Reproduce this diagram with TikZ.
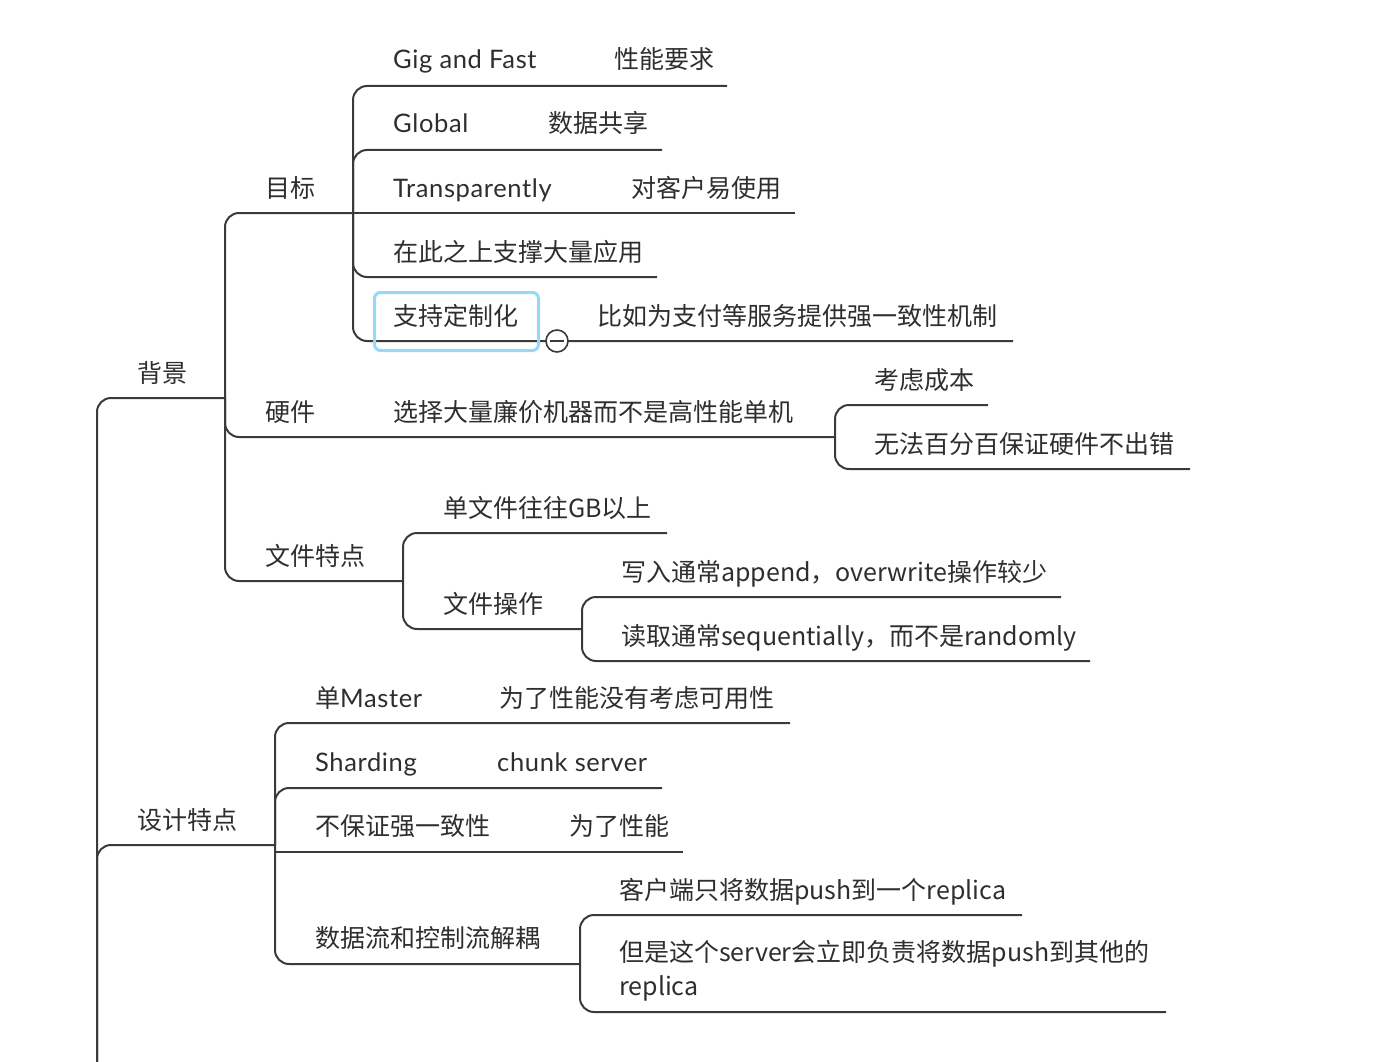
\documentclass[tikz,border=0pt]{standalone}
\usepackage{fontspec}
\setmainfont{Lato}[LetterSpace=2.5]
\newfontfamily\cjk{Noto Sans CJK SC}
\definecolor{ln}{HTML}{3A3A3A}
\definecolor{txt}{HTML}{2E2E2E}
\definecolor{hl}{HTML}{96D7FA}
\begin{document}
\begin{tikzpicture}[x=1pt,y=-1pt,
  lbl/.style={anchor=base west, inner sep=0pt, text=txt, font=\fontsize{25.5}{34}\selectfont},
  zh/.style={lbl, font=\cjk\fontsize{25}{34}\selectfont},
  wire/.style={draw=ln, line width=2pt, rounded corners=14pt}]
\useasboundingbox (0,0) rectangle (1376,1062);
\clip (0,0) rectangle (1376,1062);

% ---------- labels ----------
\node[zh]  (mb)    at (265,197) {目标};
\node[lbl] (gig)   at (393,69)  {Gig and Fast};
\node[zh]  (gig-d) at (614,69)  {性能要求};
\node[lbl] (glb)   at (393,133) {Global};
\node[zh]  (glb-d) at (548,133) {数据共享};
\node[lbl] (tr)    at (393,197) {Transparently};
\node[zh]  (tr-d)  at (631,197) {对客户易使用};
\node[zh]  (app)   at (393,261) {在此之上支撑大量应用};
\node[zh]  (cus)   at (393,325) {支持定制化};
\node[zh]  (cus-d) at (597,325) {比如为支付等服务提供强一致性机制};
\node[zh]  (bg)    at (137,382) {背景};
\node[zh]  (hw)    at (265,421) {硬件};
\node[zh]  (hw-d)  at (393,421) {选择大量廉价机器而不是高性能单机};
\node[zh]  (cost)  at (874,389) {考虑成本};
\node[zh]  (err)   at (874,453) {无法百分百保证硬件不出错};
\node[zh]  (ft)    at (265,565) {文件特点};
\node[zh]  (gb)    at (443,517) {单文件往往GB以上};
\node[zh]  (op)    at (443,613) {文件操作};
\node[zh]  (wr)    at (621,581) {写入通常append，overwrite操作较少};
\node[zh]  (rd)    at (621,645) {读取通常sequentially，而不是randomly};
\node[zh]  (ds)    at (137,829) {设计特点};
\node[lbl] (ms)    at (315,707) {{\cjk\fontsize{25}{34}\selectfont 单}Master};
\node[zh]  (ms-d)  at (499,707) {为了性能没有考虑可用性};
\node[lbl] (sh)    at (315,771) {Sharding};
\node[lbl] (sh-d)  at (497,771) {chunk server};
\node[zh]  (cs)    at (315,835) {不保证强一致性};
\node[zh]  (cs-d)  at (569,835) {为了性能};
\node[zh]  (df)    at (315,947) {数据流和控制流解耦};
\node[zh]  (push1) at (619,899) {客户端只将数据push到一个replica};
\node[zh, anchor=west, align=left] (push2) at (619,971)
  {但是这个server会立即负责将数据push到其他的\\replica};

% ---------- junctions and line ends ----------
\coordinate (root) at (97,1100);
\coordinate (j-bg) at (225,398);
\coordinate (j-mb) at (353,213);
\coordinate (j-hw) at (835,437);
\coordinate (j-ft) at (403,581);
\coordinate (j-op) at (582,629);
\coordinate (j-ds) at (275,845);
\coordinate (j-df) at (580,964);
\coordinate (s-cs) at (275,852);
\coordinate (e-gig)   at (727,86);
\coordinate (e-glb)   at (662,150);
\coordinate (e-tr)    at (795,213);
\coordinate (e-app)   at (657,277);
\coordinate (e-cus)   at (1013,341);
\coordinate (e-cost)  at (988,405);
\coordinate (e-err)   at (1190,469);
\coordinate (e-gb)    at (667,533);
\coordinate (e-wr)    at (1061,597);
\coordinate (e-rd)    at (1090,661);
\coordinate (e-ms)    at (790,723);
\coordinate (e-sh)    at (662,788);
\coordinate (e-cs)    at (683,852);
\coordinate (e-push1) at (1022,915);
\coordinate (e-push2) at (1166,1012);

% ---------- connectors ----------
\draw[wire] (root) |- (j-bg);
\draw[wire] (root) |- (j-ds);
\draw[wire] (j-bg) |- (j-mb);
\draw[wire] (j-bg) |- (j-hw);
\draw[wire] (j-bg) |- (j-ft);
\draw[wire] (j-mb) |- (e-gig);
\draw[wire] (j-mb) |- (e-glb);
\draw[wire] (j-mb) -- (e-tr);
\draw[wire] (j-mb) |- (e-app);
\draw[wire] (j-mb) |- (e-cus);
\draw[wire] (j-hw) |- (e-cost);
\draw[wire] (j-hw) |- (e-err);
\draw[wire] (j-ft) |- (e-gb);
\draw[wire] (j-ft) |- (j-op);
\draw[wire] (j-op) |- (e-wr);
\draw[wire] (j-op) |- (e-rd);
\draw[wire] (j-ds) |- (e-ms);
\draw[wire] (j-ds) |- (e-sh);
\draw[wire] (s-cs) -- (e-cs);
\draw[wire] (j-ds) |- (j-df);
\draw[wire] (j-df) |- (e-push1);
\draw[wire] (j-df) |- (e-push2);

% ---------- selection frame and fold button ----------
\node[draw=hl, line width=3pt, rounded corners=6pt, minimum width=164pt,
      minimum height=58pt, anchor=north west, inner sep=0pt] (sel) at (373,291) {};
\node[circle, draw=ln, fill=white, line width=1.6pt, minimum size=22pt,
      inner sep=0pt] (fold) at (557,341) {};
\draw[ln, line width=1.6pt] ([xshift=5pt]fold.west) -- ([xshift=-5pt]fold.east);
\end{tikzpicture}
\end{document}
